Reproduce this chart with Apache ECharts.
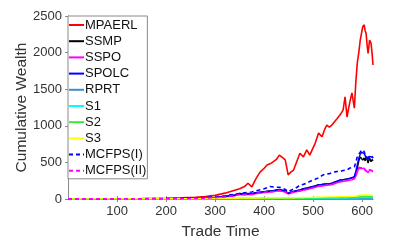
<!DOCTYPE html>
<html><head><meta charset="utf-8">
<script src="https://cdn.jsdelivr.net/npm/echarts@6/dist/echarts.min.js"></script>
<style>html,body{margin:0;padding:0;background:#fff}#c{width:399px;height:243px}</style>
</head><body><div id="c"></div>
<script>
const seriesNames = ['MPAERL','SSMP','SSPO','SPOLC','RPRT','S1','S2','S3','MCFPS(I)','MCFPS(II)'];
const tradeTime = [0,50,100,150,200,230,260,280,300,320,340,350,360,367,375,382,388,392,400,406,412,419,425,431,437,443,449,455,460,467,473,480,487,493,497,504,511,518,524,528,533,538,544,549,555,561,565,569,574,579,584,587,590,593,596,599,601,604,606,608,610,612,615,618,620,622];
const mpaerl = [1,2,4,6,10,15,22,35,50,80,120,140,170,215,165,260,330,370,420,465,480,510,540,600,570,535,330,370,395,520,625,575,670,600,625,760,900,850,960,1010,980,1010,1060,1100,1150,1215,1395,1120,1300,1450,1240,1600,1860,2000,2170,2280,2350,2380,2300,2260,2100,1990,2170,2130,2000,1830];
const ssmp = [1,1.5,2,3,5,7,10,15,22,35,55,75,70,75,70,85,90,95,100,105,110,115,125,130,120,110,78,95,105,115,125,140,150,160,165,180,195,200,205,200,210,215,235,245,260,265,270,275,280,285,300,350,420,520,575,560,530,560,520,580,540,490,560,510,540,520];
const sspo = [1,1.4,1.8,2.6,4,6,8,12,18,28,45,60,58,62,60,72,78,82,88,92,96,100,108,112,104,95,68,82,92,100,108,122,130,140,146,160,172,178,184,180,190,195,212,222,235,240,245,250,255,262,275,310,370,420,430,415,400,420,390,410,380,360,395,370,380,370];
const spolc = [1,1.5,2,3,5,7,10,15,22,34,52,70,66,72,68,82,88,92,98,103,108,113,122,127,118,108,76,93,103,113,123,138,148,158,163,178,192,198,203,198,208,213,232,242,256,262,268,272,280,290,310,380,470,560,610,640,650,620,590,600,570,540,580,560,575,560];
const rprt = [1,1.1,1.2,1.4,1.6,1.8,2,2.2,2.4,2.6,2.8,3,3.1,3.2,3.3,3.4,3.5,3.6,3.8,3.9,4,4.1,4.2,4.3,4.2,4.1,3.8,4,4.2,4.4,4.6,4.8,5,5.2,5.4,5.6,5.8,6,6.2,6.3,6.4,6.6,6.8,7,7.2,7.4,7.6,7.5,7.8,8,8.2,8.5,9,9.5,10,10.5,11,11,10.5,10.3,10,9.8,10,9.8,9.7,9.5];
const s1 = [1,1.3,1.6,2,2.5,3,3.5,4,4.5,5,5.5,6,6.2,6.4,6.3,6.6,6.8,7,7.2,7.4,7.6,7.8,8,8.2,8,7.8,7.2,7.6,8,8.4,8.8,9.2,9.6,10,10.3,10.6,11,11.4,11.8,12,12.2,12.5,12.8,13.2,13.6,14,14.4,14.2,14.8,15.2,15.6,16.5,17.5,18.5,19.5,20,20.5,20.8,20,19.5,19,18.5,19,18.6,18.4,18];
const s2 = [1,1.5,2,2.6,3.4,4,4.8,5.4,6,6.8,7.6,8,8.4,8.6,8.4,9,9.4,9.7,10.2,10.6,11,11.4,11.8,12.2,11.8,11.4,10.4,11,11.6,12.2,12.8,13.4,14,14.6,15,15.6,16.2,16.8,17.4,17.8,18.2,18.6,19.2,19.8,20.4,21,21.6,21.2,22.2,23,24,25.5,27,29,31,32,33,33.5,32,31,30.5,30,31,30.4,30,29.5];
const s3 = [1,1.6,2.2,3,4,5,6,7,8,9.5,11,12,12.5,13,12.8,13.6,14.2,14.6,15.4,16,16.6,17.2,17.8,18.4,17.8,17.2,15.8,16.8,17.6,18.6,19.6,20.6,21.6,22.6,23.2,24.2,25.2,26.2,27.2,27.8,28.4,29,30,31,32,33,34,33.5,35,36.5,38,41,44,48,52,55,57,58,55,53,52,51,52,51,50.5,50];
const mcfps1 = [1,1.5,2.5,4,6,9,13,20,30,45,65,75,85,90,95,110,120,125,140,155,170,165,160,160,150,130,100,120,135,160,190,200,215,240,255,270,290,320,340,355,345,360,370,375,375,390,400,395,420,430,440,500,580,610,640,670,690,650,600,575,580,560,590,570,580,560];
const mcfps2 = [1,1.4,1.9,2.7,4.2,6.2,8.5,12.5,19,29,47,62,60,64,62,74,80,84,90,95,99,103,111,116,107,98,70,85,95,103,111,126,134,144,150,164,176,182,188,184,194,199,216,226,240,245,250,256,262,268,282,320,380,430,440,425,410,430,400,420,390,370,400,380,390,375];
const xTicks = [100,200,300,400,500,600];
const yTicks = [0,500,1000,1500,2000,2500];

const values = [mpaerl, ssmp, sspo, spolc, rprt, s1, s2, s3, mcfps1, mcfps2];
const colors = ['#ff0000','#000000','#ff00ff','#0000ff','#3f8ccc','#00ffff','#33ee33','#ffff00','#0000ff','#ff00ff'];
const types = ['solid','solid','solid','solid','solid','solid','solid','solid',[4,3],[4,3]];
const widths = [1.6,1.4,1.4,1.4,1.4,1.4,1.4,1.4,1.6,1.6];

const chart = echarts.init(document.getElementById('c'), null, {renderer:'canvas'});
const axisCol = '#8a8a8a', txtCol = '#333333', font = 'Liberation Sans';
chart.setOption({
  animation:false,
  backgroundColor:'#fff',
  grid:{left:68, right:26, top:16, bottom:44, containLabel:false, outerBoundsMode:'none'},
  legend:{
    orient:'vertical', left:68, top:16, data:seriesNames,
    itemWidth:15, itemHeight:16, itemGap:0.2,
    padding:[1,1,0,0],
    borderColor:'#8a8a8a', borderWidth:1, backgroundColor:'#fff',
    itemStyle:{color:'rgba(0,0,0,0)', borderWidth:0, opacity:0},
    textStyle:{fontFamily:font, fontSize:13, color:'#111', lineHeight:16, padding:[0,0,0,-4]}
  },
  xAxis:[{
    type:'value', min:0, max:622, interval:100,
    name:'Trade Time', nameLocation:'middle', nameGap:25, nameMoveOverlap:false,
    nameTextStyle:{fontFamily:font, fontSize:15.5, color:txtCol},
    axisLine:{lineStyle:{color:axisCol, width:1}},
    axisTick:{inside:true, length:3, lineStyle:{color:axisCol}, customValues:xTicks},
    axisLabel:{fontFamily:font, fontSize:13, color:txtCol, margin:6, customValues:xTicks,
      formatter:v=> xTicks.indexOf(v)>=0 ? String(v) : ''},
    splitLine:{show:false}
  },{
    type:'value', position:'top', min:0, max:622, interval:100,
    axisLine:{show:true, lineStyle:{color:axisCol, width:1}},
    axisTick:{show:true, inside:true, length:3, lineStyle:{color:axisCol}, customValues:xTicks},
    axisLabel:{show:false}, splitLine:{show:false}
  }],
  yAxis:[{
    type:'value', min:0, max:2500, interval:500,
    name:'Cumulative Wealth', nameLocation:'middle', nameGap:38, nameMoveOverlap:false,
    nameTextStyle:{fontFamily:font, fontSize:15.5, color:txtCol},
    axisLine:{show:true, lineStyle:{color:axisCol, width:1}},
    axisTick:{show:true, inside:true, length:3, lineStyle:{color:axisCol}, customValues:yTicks},
    axisLabel:{fontFamily:font, fontSize:13, color:txtCol, margin:6, customValues:yTicks,
      formatter:v=>String(v)},
    splitLine:{show:false}
  },{
    type:'value', position:'right', min:0, max:2500, interval:500,
    axisLine:{show:true, lineStyle:{color:axisCol, width:1}},
    axisTick:{show:true, inside:true, length:3, lineStyle:{color:axisCol}, customValues:yTicks},
    axisLabel:{show:false}, splitLine:{show:false}
  }],
  series: seriesNames.map((n,i)=>({
    name:n, type:'line', symbol:'none', showSymbol:false,
    data: tradeTime.map((t,k)=>[t, values[i][k]]),
    lineStyle:{color:colors[i], width:widths[i], type:types[i]},
    itemStyle:{color:colors[i]},
    z: 2,
    silent:true
  }))
});
</script></body></html>
